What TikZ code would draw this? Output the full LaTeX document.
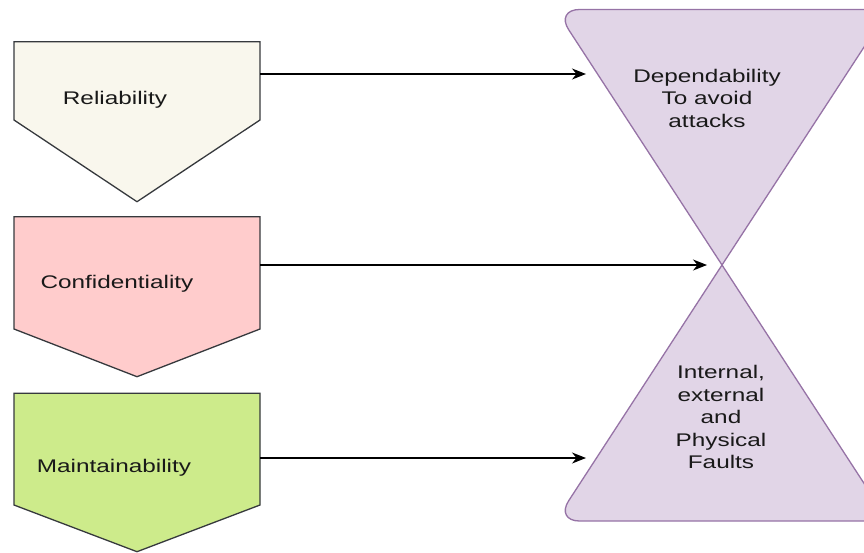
\documentclass[tikz,border=0pt]{standalone}
\usepackage{fontspec}
\newfontfamily\diagfont[FakeStretch=1.33]{Liberation Sans}
\usetikzlibrary{arrows.meta}
\definecolor{edgec}{HTML}{36393D}
\definecolor{relfill}{HTML}{F9F7ED}
\definecolor{conffill}{HTML}{FFCCCC}
\definecolor{maintfill}{HTML}{CDEB8B}
\definecolor{glassfill}{HTML}{E1D5E7}
\definecolor{glassline}{HTML}{9673A6}
\tikzset{
  pentbox/.style={draw=edgec, line width=1.3pt, line join=miter},
  glass/.style={draw=glassline, fill=glassfill, line width=1.3pt},
  lbl/.style={font=\diagfont\fontsize{18.3}{22.5}\selectfont, text=black!90,
              align=center, inner sep=0pt},
  link/.style={->, line width=1.3pt, draw=black},
  >={Stealth[length=14pt,width=11pt,inset=4.5pt]},
}
\begin{document}
\begin{tikzpicture}[x=1pt,y=-1pt]
\useasboundingbox (0,0) rectangle (864,552);
% hourglass on the right
\filldraw[glass] (722,265) [rounded corners=24pt] -- (555.5,9.5) -- (888.5,9.5)
  [sharp corners] -- cycle;
\filldraw[glass] (722,265) [rounded corners=24pt] -- (555.5,521) -- (888.5,521)
  [sharp corners] -- cycle;
\node[lbl] (dep) at (707,98) {Dependability\\To avoid\\attacks};
\node[lbl] (flt) at (721,417) {Internal,\\external\\and\\Physical\\Faults};
\coordinate (dep-in) at (586,74);
\coordinate (mid-in) at (707,265);
\coordinate (flt-in) at (586,458);

% pentagons on the left
\filldraw[pentbox, fill=relfill] (14,41.7) -- (260,41.7) -- (260,120)
  -- (137,201.7) -- (14,120) -- cycle;
\filldraw[pentbox, fill=conffill] (14,216.7) -- (260,216.7) -- (260,329)
  -- (137,376.7) -- (14,329) -- cycle;
\filldraw[pentbox, fill=maintfill] (14,393.3) -- (260,393.3) -- (260,505)
  -- (137,551.7) -- (14,505) -- cycle;
\node[lbl, anchor=base] (rel) at (115,104) {Reliability};
\node[lbl, anchor=base] (conf) at (117,288) {Confidentiality};
\node[lbl, anchor=base] (maint) at (114,472) {Maintainability};
\coordinate (rel-out) at (260,74);
\coordinate (conf-out) at (260,265);
\coordinate (maint-out) at (260,458);

% links
\draw[link] (rel-out) -- (dep-in);
\draw[link] (conf-out) -- (mid-in);
\draw[link] (maint-out) -- (flt-in);
\end{tikzpicture}
\end{document}
